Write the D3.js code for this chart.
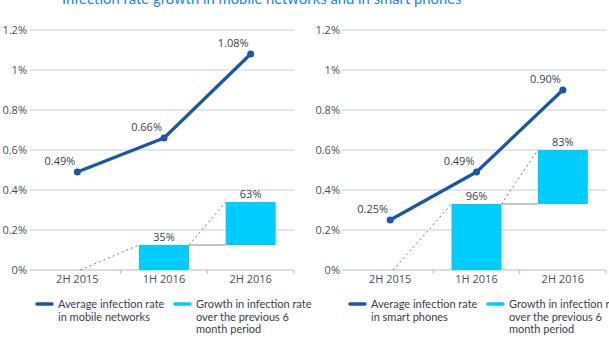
<!DOCTYPE html>
<html lang="en">
<head>
<meta charset="UTF-8">
<title>Infection rate growth</title>
<script src="https://d3js.org/d3.v7.min.js"></script>
<style>
  body { margin: 0; background: #fff; }
  svg { display: block; font-family: "Open Sans", sans-serif; }
  .tick-label { font-size: 11px; fill: #4a4f5e; }
  .value { font-size: 11px; fill: #3c4150; }
  .legend { font-family: Lato, sans-serif; font-size: 11px; fill: #3c4150; }
</style>
</head>
<body>
<svg width="609" height="342"></svg>
<script>
  const periods = ["2H 2015", "1H 2016", "2H 2016"];
  const yTicks = [0, 0.2, 0.4, 0.6, 0.8, 1, 1.2];

  // average infection rate (%)
  const mobileRate = [0.49, 0.66, 1.08];
  const phoneRate = [0.25, 0.49, 0.90];

  // waterfall levels (%) and growth labels
  const mobileSteps = [0, 0.125, 0.34];
  const phoneSteps = [0, 0.33, 0.60];
  const mobileGrowth = [null, 35, 63];
  const phoneGrowth = [null, 96, 83];

  const lineColor = "#1c56a5";
  const barColor = "#00cdfc";
  const gridColor = "#c6cee8";

  const svg = d3.select("svg");

  svg.append("text")
    .attr("x", 62).attr("y", 4)
    .attr("font-family", "Lato, sans-serif")
    .attr("font-size", 14.8)
    .attr("fill", "#2a82d0")
    .text("Infection rate growth in mobile networks and in smart phones");

  const y = d3.scaleLinear().domain([0, 1.2]).range([270, 30]);

  function panel(opts) {
    const g = svg.append("g");
    const x = d3.scaleBand().domain(periods).range([opts.x0 + 4, opts.x1]);
    const cx = d => x(d) + x.bandwidth() / 2;

    // grid
    g.selectAll(".grid").data(yTicks).join("line")
      .attr("x1", opts.x0).attr("x2", opts.x1)
      .attr("y1", d => y(d)).attr("y2", d => y(d))
      .attr("stroke", d => d === 0 ? "#b4bbd2" : gridColor)
      .attr("stroke-width", 1);

    g.selectAll(".ylab").data(yTicks).join("text")
      .attr("class", "tick-label")
      .attr("x", opts.x0 - 3).attr("y", d => y(d) + 4)
      .attr("text-anchor", "end")
      .text(d => d3.format("~")(+d.toFixed(1)) + "%");

    // x axis ticks between categories
    g.selectAll(".xtick").data(periods.slice(1).concat(["end"])).join("line")
      .attr("x1", (d, i) => i < 2 ? x(d) : opts.x1)
      .attr("x2", (d, i) => i < 2 ? x(d) : opts.x1)
      .attr("y1", 270).attr("y2", 274)
      .attr("stroke", "#b4bbd2");

    g.selectAll(".xlab").data(periods).join("text")
      .attr("class", "tick-label")
      .attr("x", d => cx(d)).attr("y", 283)
      .attr("text-anchor", "middle")
      .text(d => d);

    // waterfall bars
    const barW = 50;
    const steps = opts.steps;
    const bars = periods.map((p, i) => ({ p, i, lo: i ? steps[i - 1] : 0, hi: steps[i], growth: opts.growth[i] }))
      .filter(d => d.growth !== null);

    // dotted connectors from previous top to next bar top-left
    periods.slice(1).forEach((p, k) => {
      const i = k + 1;
      const fromX = i === 1 ? cx(periods[0]) + 3 : cx(periods[i - 1]) + barW / 2;
      g.append("line")
        .attr("x1", fromX).attr("y1", y(steps[i - 1]))
        .attr("x2", cx(p) - barW / 2).attr("y2", y(steps[i]))
        .attr("stroke", "#777").attr("stroke-width", 1)
        .attr("stroke-dasharray", "2,3");
    });

    // solid step line between bars
    g.append("line")
      .attr("x1", cx(periods[1]) + barW / 2).attr("x2", cx(periods[2]) - barW / 2)
      .attr("y1", y(steps[1])).attr("y2", y(steps[1]))
      .attr("stroke", "#8a8a8a").attr("stroke-width", 1);

    g.selectAll(".bar").data(bars).join("rect")
      .attr("x", d => cx(d.p) - barW / 2)
      .attr("width", barW)
      .attr("y", d => y(d.hi))
      .attr("height", d => y(d.lo) - y(d.hi))
      .attr("fill", barColor);

    g.selectAll(".blab").data(bars).join("text")
      .attr("class", "value")
      .attr("x", d => cx(d.p)).attr("y", d => y(d.hi) - 4)
      .attr("text-anchor", "middle")
      .text(d => d.growth + "%");

    // infection rate line
    const pts = periods.map((p, i) => [cx(p), y(opts.rate[i])]);
    g.append("path")
      .attr("d", d3.line()(pts))
      .attr("fill", "none")
      .attr("stroke", lineColor)
      .attr("stroke-width", 3.2)
      .attr("stroke-linejoin", "round");

    g.selectAll(".pt").data(pts).join("circle")
      .attr("cx", d => d[0]).attr("cy", d => d[1]).attr("r", 3.5)
      .attr("fill", lineColor);

    g.selectAll(".plab").data(opts.rate).join("text")
      .attr("class", "value")
      .attr("x", (d, i) => pts[i][0] - 2).attr("y", (d, i) => pts[i][1] - 7)
      .attr("text-anchor", "end")
      .text(d => d.toFixed(2) + "%");

    // legend
    const lx = opts.x0 + 7;
    g.append("line")
      .attr("x1", lx).attr("x2", lx + 15).attr("y1", 304).attr("y2", 304)
      .attr("stroke", lineColor).attr("stroke-width", 3.5).attr("stroke-linecap", "round");
    const t1 = g.append("text").attr("class", "legend").attr("x", lx + 21).attr("y", 308);
    opts.lineLegend.forEach((s, i) => t1.append("tspan").attr("x", lx + 21).attr("dy", i ? 12.5 : 0).text(s));

    const bx = opts.x0 + 145;
    g.append("line")
      .attr("x1", bx).attr("x2", bx + 15).attr("y1", 304).attr("y2", 304)
      .attr("stroke", barColor).attr("stroke-width", 3.5).attr("stroke-linecap", "round");
    const t2 = g.append("text").attr("class", "legend").attr("x", bx + 21).attr("y", 308);
    ["Growth in infection rate", "over the previous 6", "month period"]
      .forEach((s, i) => t2.append("tspan").attr("x", bx + 21).attr("dy", i ? 12.5 : 0).text(s));
  }

  panel({ x0: 30, x1: 294, rate: mobileRate, steps: mobileSteps, growth: mobileGrowth,
          lineLegend: ["Average infection rate", "in mobile networks"] });
  panel({ x0: 343, x1: 606, rate: phoneRate, steps: phoneSteps, growth: phoneGrowth,
          lineLegend: ["Average infection rate", "in smart phones"] });
</script>
</body>
</html>
